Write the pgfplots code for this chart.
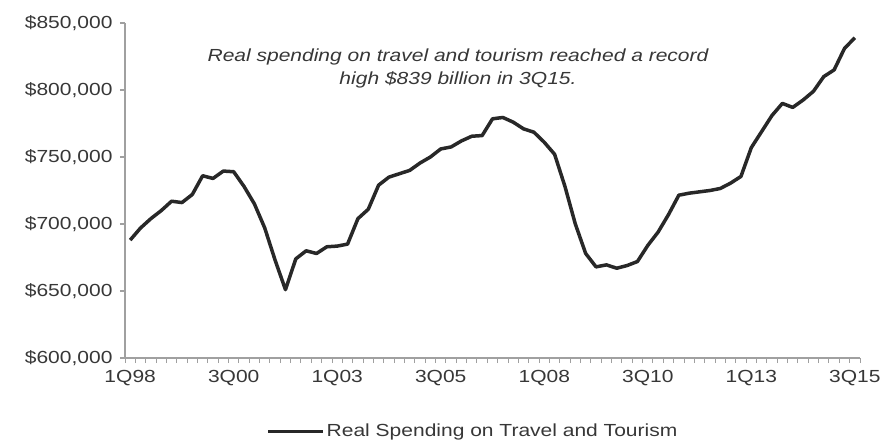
\documentclass[border=0pt]{standalone}
\usepackage{fontspec}
\setmainfont[FakeStretch=1.2]{Liberation Sans}
\usepackage{pgfplots}
\pgfplotsset{compat=1.18}
\definecolor{axisgray}{RGB}{160,160,160}
\definecolor{txtgray}{RGB}{55,55,55}
\definecolor{linegray}{RGB}{40,40,40}
\begin{document}
\begin{tikzpicture}
\useasboundingbox (0,0) rectangle (880bp,440bp);
\begin{axis}[
    at={(125bp,82bp)}, anchor=south west,
    scale only axis,
    width=735bp, height=335bp,
    xmin=-0.5, xmax=70.5,
    ymin=600000, ymax=850000,
    scaled y ticks=false,
    axis x line*=bottom,
    axis y line*=left,
    axis line style={axisgray, line width=1.2bp},
    xtick={-0.5,0.5,...,70.5},
    xticklabels={},
    x tick style={axisgray, line width=1bp},
    extra x ticks={0,10,...,70},
    extra x tick labels={1Q98,3Q00,1Q03,3Q05,1Q08,3Q10,1Q13,3Q15},
    extra x tick style={major tick length=0pt, tick style={draw=none}},
    ytick={600000,650000,...,850000},
    yticklabels={{\$600,000},{\$650,000},{\$700,000},{\$750,000},{\$800,000},{\$850,000}},
    tick align=outside,
    y tick style={axisgray, line width=1.2bp},
    major tick length=5bp,
    every tick label/.append style={font=\fontsize{17.5bp}{21bp}\selectfont, text=txtgray},
    xticklabel style={yshift=-9bp},
    yticklabel style={xshift=-4bp},
    legend style={at={(0.4735,-0.218)}, anchor=center, draw=none,
        font=\fontsize{17.5bp}{21bp}\selectfont, text=txtgray, fill=none},
    legend image code/.code={\draw[linegray, line width=3bp] (0bp,0bp) -- (55bp,0bp);},
    clip=false,
]
\addplot[linegray, line width=3.5bp, line join=round] coordinates {
(0,688000)(1,697000)(2,704000)(3,710000)(4,717000)(5,716000)(6,722000)(7,736000)
(8,734000)(9,739500)(10,739000)(11,728000)(12,715000)(13,697000)(14,673000)(15,651000)
(16,674000)(17,680000)(18,678000)(19,683000)(20,683500)(21,685000)(22,704000)(23,711000)
(24,729000)(25,735000)(26,737500)(27,740000)(28,745500)(29,750000)(30,756000)(31,757500)
(32,762000)(33,765500)(34,766000)(35,778500)(36,779500)(37,776000)(38,771000)(39,768500)
(40,761000)(41,752000)(42,728000)(43,700000)(44,678000)(45,668000)(46,669500)(47,667000)
(48,669000)(49,672000)(50,684000)(51,694000)(52,707000)(53,721500)(54,723000)(55,724000)
(56,725000)(57,726500)(58,730500)(59,735500)(60,757000)(61,769000)(62,781000)(63,790000)
(64,787000)(65,792500)(66,799000)(67,810000)(68,815000)(69,831000)(70,839000)
};
\addlegendentry{Real Spending on Travel and Tourism}
\end{axis}
\node[text=txtgray, align=center, font=\fontsize{17.5bp}{23bp}\selectfont\itshape] at (458bp,372bp)
    {Real spending on travel and tourism reached a record\\high \$839 billion in 3Q15.};
\end{tikzpicture}
\end{document}
